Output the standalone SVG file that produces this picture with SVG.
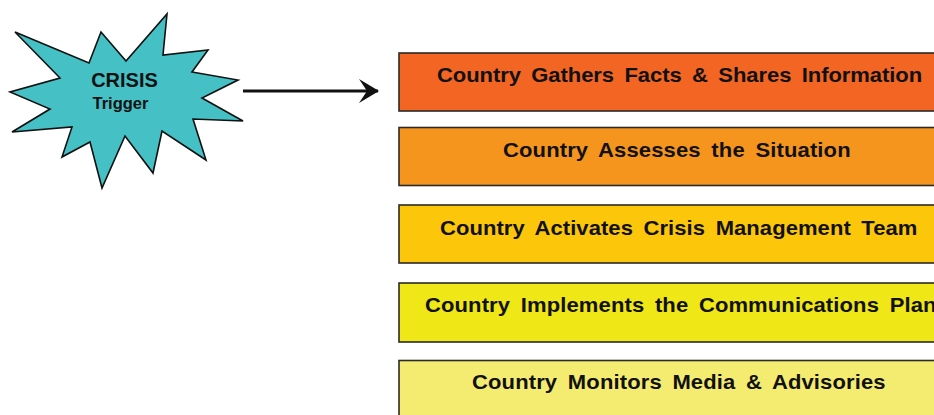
<svg xmlns="http://www.w3.org/2000/svg" width="934" height="415" viewBox="0 0 934 415">
<defs>
<style>
.box{stroke:#2a2a2a;stroke-width:1.6}
.lbl{font-family:"Liberation Sans",Arial,sans-serif;font-weight:bold;font-size:20px;fill:#111;word-spacing:4px}
.star{fill:#45C0C4;stroke:#111;stroke-width:1.6;stroke-linejoin:miter}
</style>
<marker id="ah" viewBox="0 0 20 26" refX="19" refY="13" markerWidth="20" markerHeight="26" markerUnits="userSpaceOnUse" orient="auto">
<path d="M0,1 L20,13 L0,25 L8,13 Z" fill="#111"/>
</marker>
</defs>
<rect width="934" height="415" fill="#fff"/>
<g id="crisis">
<polygon class="star" points="15,32 89,63 101,32 126,61 167,14 163,55 208,50 192,72 238,80 202,98 243,121 193,119 206,160 162,131 153,173 125,136 102,188 90,142 62,157 72,127 12,132 50,109 10,92 60,78"/>
<text class="lbl" x="124.5" y="87" text-anchor="middle" style="font-size:20px;word-spacing:0">CRISIS</text>
<text class="lbl" x="120.5" y="109" text-anchor="middle" style="font-size:16.5px;word-spacing:0">Trigger</text>
</g>
<g id="connectors">
<line x1="243" y1="91" x2="378" y2="91" stroke="#111" stroke-width="3" marker-end="url(#ah)"/>
</g>
<g id="step1">
<rect class="box" x="399" y="53" width="560" height="58" fill="#F26522"/>
<text class="lbl" transform="translate(437 81.5) scale(1.1 1)" textLength="441" lengthAdjust="spacing">Country Gathers Facts &amp; Shares Information</text>
</g>
<g id="step2">
<rect class="box" x="399" y="127.5" width="560" height="58" fill="#F6951E"/>
<text class="lbl" transform="translate(503 156.5) scale(1.1 1)" textLength="316" lengthAdjust="spacing">Country Assesses the Situation</text>
</g>
<g id="step3">
<rect class="box" x="399" y="205" width="560" height="58" fill="#FCC70B"/>
<text class="lbl" transform="translate(440 235) scale(1.1 1)" textLength="434" lengthAdjust="spacing">Country Activates Crisis Management Team</text>
</g>
<g id="step4">
<rect class="box" x="399" y="283" width="560" height="59" fill="#EFE716"/>
<text class="lbl" transform="translate(425 311.5) scale(1.1 1)" textLength="465" lengthAdjust="spacing">Country Implements the Communications Plan</text>
</g>
<g id="step5">
<rect class="box" x="399" y="360.5" width="560" height="70" fill="#F4EC70"/>
<text class="lbl" transform="translate(472 389) scale(1.1 1)" textLength="376" lengthAdjust="spacing">Country Monitors Media &amp; Advisories</text>
</g>
</svg>
